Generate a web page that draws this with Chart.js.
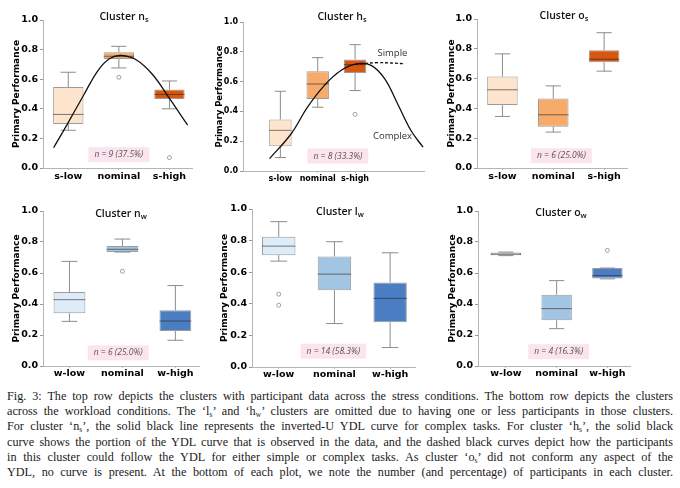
<!DOCTYPE html>
<html>
<head>
<meta charset="utf-8">
<script src="https://cdn.jsdelivr.net/npm/chart.js@4.4.1/dist/chart.umd.min.js"></script>
<style>
    html, body { margin: 0; padding: 0; background: #fff; }
    body { width: 680px; height: 488px; position: relative; overflow: hidden; }
    .panel { position: absolute; }
    .ttl {
        position: absolute; width: 120px; text-align: center;
        font-family: 'Open Sans', 'DejaVu Sans', sans-serif; font-weight: 600;
        font-size: 10.5px; line-height: 14px; color: #111;
    }
    .ttl sub { font-size: 7.5px; vertical-align: -2px; line-height: 0; }
    #caption {
        position: absolute; left: 7px; top: 389px; width: 666px;
        font-family: 'Liberation Serif', 'Times New Roman', serif;
        font-size: 12.2px; line-height: 15.2px; color: #1a1a1a;
    }
    #caption div { text-align: justify; text-align-last: justify; }
    #caption sub { font-size: 7.5px; vertical-align: -2px; line-height: 0; }
</style>
</head>
<body>
<div id="caption">
    <div>Fig. 3: The top row depicts the clusters with participant data across the stress conditions. The bottom row depicts the clusters</div>
    <div>across the workload conditions. The &lsquo;l<sub>s</sub>&rsquo; and &lsquo;h<sub>w</sub>&rsquo; clusters are omitted due to having one or less participants in those clusters.</div>
    <div>For cluster &lsquo;n<sub>s</sub>&rsquo;, the solid black line represents the inverted-U YDL curve for complex tasks. For cluster &lsquo;h<sub>s</sub>&rsquo;, the solid black</div>
    <div>curve shows the portion of the YDL curve that is observed in the data, and the dashed black curves depict how the participants</div>
    <div>in this cluster could follow the YDL for either simple or complex tasks. As cluster &lsquo;o<sub>s</sub>&rsquo; did not conform any aspect of the</div>
    <div>YDL, no curve is present. At the bottom of each plot, we note the number (and percentage) of participants in each cluster.</div>
</div>
<script>
// Categories
var stressCats = ['s-low', 'nominal', 's-high'];
var workCats = ['w-low', 'nominal', 'w-high'];

// Box summaries per category: [whisker low, q1, median, q3, whisker high]
var nsBoxes = [[0.255, 0.297, 0.362, 0.547, 0.647], [0.676, 0.736, 0.755, 0.782, 0.822], [0.400, 0.466, 0.497, 0.530, 0.588]];
var hsBoxes = [[0.090, 0.166, 0.273, 0.345, 0.535], [0.428, 0.483, 0.584, 0.669, 0.761], [0.540, 0.658, 0.714, 0.748, 0.848]];
var osBoxes = [[0.346, 0.422, 0.525, 0.614, 0.766], [0.241, 0.277, 0.357, 0.466, 0.551], [0.650, 0.710, 0.730, 0.790, 0.908]];
var nwBoxes = [[0.288, 0.340, 0.428, 0.477, 0.675], [0.735, 0.736, 0.753, 0.774, 0.819], [0.166, 0.226, 0.290, 0.360, 0.519]];
var lwBoxes = [[0.670, 0.708, 0.765, 0.824, 0.920], [0.275, 0.486, 0.588, 0.700, 0.793], [0.123, 0.283, 0.434, 0.535, 0.723]];
var owBoxes = [[0.712, 0.715, 0.722, 0.732, 0.735], [0.241, 0.295, 0.370, 0.460, 0.551], [0.562, 0.564, 0.583, 0.632, 0.632]];

// Outliers: [category index, value]
var nsOutliers = [[1, 0.613], [2, 0.070]];
var hsOutliers = [[2, 0.380]];
var osOutliers = [];
var nwOutliers = [[1, 0.611]];
var lwOutliers = [[0, 0.461], [0, 0.391]];
var owOutliers = [[2, 0.746]];

// YDL curves: [x (category units), value]
var nsCurve = [[-0.29, 0.137], [-0.03, 0.29], [0.30, 0.49], [0.59, 0.66], [0.82, 0.74], [1.05, 0.76], [1.35, 0.73], [1.67, 0.63], [2.00, 0.47], [2.36, 0.29]];
var hsComplex = [[-0.29, 0.083], [0.29, 0.25], [0.73, 0.43], [1.18, 0.575], [1.63, 0.676], [2.07, 0.72], [2.43, 0.709], [2.79, 0.62], [3.14, 0.45], [3.50, 0.27], [3.82, 0.16]];
var hsSimple = [[2.00, 0.716], [2.60, 0.727], [3.33, 0.720]];

// Participant counts
var nsCount = 'n = 9 (37.5%)';
var hsCount = 'n = 8 (33.3%)';
var osCount = 'n = 6 (25.0%)';
var nwCount = 'n = 6 (25.0%)';
var lwCount = 'n = 14 (58.3%)';
var owCount = 'n = 4 (16.3%)';

// Y ticks
var yTicks = [0, 0.2, 0.4, 0.6, 0.8, 1.0];

(function () {
    'use strict';

    var ORANGES = ['#FDE5CD', '#F7AB6B', '#D8560F'];
    var BLUES = ['#DEEBF8', '#A2C5E4', '#4A7DC2'];
    var PAD_T = 10, PAD_R = 4;

    // Panel layout: chart area [left, top, right, bottom] in page pixels
    var panels = [
        { name: 'n', sub: 's', cats: stressCats, boxes: nsBoxes, out: nsOutliers, colors: ORANGES, count: nsCount,
          area: [43, 20, 193, 168], xr: [-0.5, 2.45], yw: 32, xpad: 1, fs: 9.5, title: [124, 16], note: [1.0, 0.09],
          curves: [{ pts: nsCurve }] },
        { name: 'h', sub: 's', cats: stressCats, boxes: hsBoxes, out: hsOutliers, colors: ORANGES, count: hsCount,
          area: [243, 22, 425, 171], xr: [-1.0, 3.85], yw: 28, xpad: 1, fs: 8, title: [342, 16], note: [1.54, 0.10],
          curves: [{ pts: hsComplex }, { pts: hsSimple, dash: [3, 2] }],
          labels: [{ text: 'Simple', x: 3.0, y: 0.79 }, { text: 'Complex', x: 3.0, y: 0.23 }] },
        { name: 'o', sub: 's', cats: stressCats, boxes: osBoxes, out: osOutliers, colors: ORANGES, count: osCount,
          area: [477, 19, 627, 168], xr: [-0.5, 2.45], yw: 31, xpad: 1, fs: 9.5, title: [564, 15], note: [1.16, 0.082] },
        { name: 'n', sub: 'w', cats: workCats, boxes: nwBoxes, out: nwOutliers, colors: BLUES, count: nwCount,
          area: [43, 211, 200, 366], xr: [-0.5, 2.45], yw: 32, xpad: 0, fs: 9.5, title: [121, 213], note: [0.92, 0.085] },
        { name: 'l', sub: 'w', cats: workCats, boxes: lwBoxes, out: lwOutliers, colors: BLUES, count: lwCount,
          area: [252, 209, 416, 367], xr: [-0.48, 2.45], yw: 33, xpad: 0, fs: 9.5, title: [340, 211], note: [0.98, 0.10] },
        { name: 'o', sub: 'w', cats: workCats, boxes: owBoxes, out: owOutliers, colors: BLUES, count: owCount,
          area: [478, 211, 631, 366], xr: [-0.55, 2.45], yw: 31, xpad: 0, fs: 9.5, title: [561, 212], note: [1.04, 0.092] }
    ];

    // Whiskers, caps and medians drawn right after the box dataset
    var boxPlotPlugin = {
        id: 'boxPlot',
        afterDatasetDraw: function (chart, args, opts) {
            if (args.index !== 0 || !opts.boxes) { return; }
            var ctx = chart.ctx, ys = chart.scales.y;
            var meta = chart.getDatasetMeta(0);
            ctx.save();
            ctx.lineWidth = 1;
            opts.boxes.forEach(function (b, i) {
                var bar = meta.data[i];
                var cx = bar.x, half = bar.width / 2;
                var yLo = ys.getPixelForValue(b[0]), yQ1 = ys.getPixelForValue(b[1]);
                var yMed = ys.getPixelForValue(b[2]);
                var yQ3 = ys.getPixelForValue(b[3]), yHi = ys.getPixelForValue(b[4]);
                ctx.strokeStyle = '#8c8c8c';
                ctx.beginPath();
                ctx.moveTo(cx, yQ3); ctx.lineTo(cx, yHi);
                ctx.moveTo(cx, yQ1); ctx.lineTo(cx, yLo);
                ctx.moveTo(cx - half / 2, yHi); ctx.lineTo(cx + half / 2, yHi);
                ctx.moveTo(cx - half / 2, yLo); ctx.lineTo(cx + half / 2, yLo);
                ctx.stroke();
                ctx.strokeStyle = 'rgba(40,40,40,0.6)';
                ctx.beginPath();
                ctx.moveTo(cx - half, yMed); ctx.lineTo(cx + half, yMed);
                ctx.stroke();
            });
            ctx.restore();
        }
    };

    // Count badge and curve labels in data coordinates
    var notesPlugin = {
        id: 'notes',
        afterDatasetsDraw: function (chart, args, opts) {
            var ctx = chart.ctx, xs = chart.scales.x, ys = chart.scales.y;
            (opts.items || []).forEach(function (t) {
                var px = xs.getPixelForValue(t.x), py = ys.getPixelForValue(t.y);
                ctx.save();
                ctx.font = t.font;
                if (t.box) {
                    var w = ctx.measureText(t.text).width + 12;
                    ctx.fillStyle = t.box;
                    ctx.fillRect(px - w / 2, py - 7.5, w, 15);
                }
                ctx.fillStyle = t.color;
                ctx.textAlign = 'center';
                ctx.textBaseline = 'middle';
                ctx.fillText(t.text, px, py);
                ctx.restore();
            });
        }
    };

    function toPoints(list) {
        return list.map(function (p) { return { x: p[0], y: p[1] }; });
    }

    function buildPanel(p) {
        var xh = 20;
        var tickFont = { family: 'DejaVu Sans', size: p.fs, weight: 'bold' };
        var left = p.area[0] - p.yw, top = p.area[1] - PAD_T;
        var w = p.area[2] - p.area[0] + p.yw + PAD_R;
        var h = p.area[3] - p.area[1] + PAD_T + xh;

        var wrap = document.createElement('div');
        wrap.className = 'panel';
        wrap.style.left = left + 'px';
        wrap.style.top = top + 'px';
        wrap.style.width = w + 'px';
        wrap.style.height = h + 'px';
        var canvas = document.createElement('canvas');
        wrap.appendChild(canvas);
        document.body.appendChild(wrap);

        // Title with subscript
        var ttl = document.createElement('div');
        ttl.className = 'ttl';
        ttl.style.left = (p.title[0] - 60) + 'px';
        ttl.style.top = (p.title[1] - 7) + 'px';
        ttl.innerHTML = 'Cluster ' + p.name + '<sub>' + p.sub + '</sub>';
        document.body.appendChild(ttl);

        var datasets = [{
            type: 'bar',
            order: 3,
            data: p.boxes.map(function (b, i) { return { x: i, y: [b[1], b[3]] }; }),
            backgroundColor: p.colors,
            borderColor: 'rgba(60,60,60,0.5)',
            borderWidth: 1,
            borderSkipped: false,
            barPercentage: 0.6,
            categoryPercentage: 1
        }, {
            type: 'scatter',
            order: 2,
            data: toPoints(p.out),
            pointRadius: 2,
            pointBackgroundColor: 'rgba(0,0,0,0)',
            pointBorderColor: '#8a8a8a',
            pointBorderWidth: 0.8
        }];
        (p.curves || []).forEach(function (c) {
            datasets.push({
                type: 'line',
                order: 1,
                data: toPoints(c.pts),
                borderColor: '#111',
                borderWidth: 1.3,
                borderDash: c.dash || [],
                pointRadius: 0,
                tension: 0.4,
                fill: false
            });
        });

        var notes = [{ text: p.count, x: p.note[0], y: p.note[1], box: '#FCE4EE', color: '#555',
                       font: 'italic 8.5px "Open Sans", sans-serif' }];
        (p.labels || []).forEach(function (l) {
            notes.push({ text: l.text, x: l.x, y: l.y, color: '#333', font: '9.5px "Open Sans", sans-serif' });
        });

        new Chart(canvas, {
            type: 'bar',
            data: { datasets: datasets },
            options: {
                responsive: true,
                maintainAspectRatio: false,
                animation: false,
                layout: { padding: { top: PAD_T, right: PAD_R, left: 0, bottom: 0 } },
                plugins: {
                    legend: { display: false },
                    tooltip: { enabled: false },
                    boxPlot: { boxes: p.boxes },
                    notes: { items: notes }
                },
                scales: {
                    x: {
                        type: 'linear',
                        min: p.xr[0],
                        max: p.xr[1],
                        offset: false,
                        afterBuildTicks: function (s) {
                            s.ticks = p.cats.map(function (c, i) { return { value: i }; });
                        },
                        afterFit: function (s) { s.height = xh; },
                        ticks: {
                            autoSkip: false,
                            maxRotation: 0,
                            padding: p.xpad,
                            color: '#000',
                            font: tickFont,
                            callback: function (v, i) { return p.cats[i]; }
                        },
                        grid: { drawOnChartArea: false, drawTicks: true, tickLength: 2, color: '#bbb', offset: false },
                        border: { display: true, color: '#b5b5b5' }
                    },
                    y: {
                        min: 0,
                        max: 1,
                        afterBuildTicks: function (s) {
                            s.ticks = yTicks.map(function (v) { return { value: v }; });
                        },
                        afterFit: function (s) { s.width = p.yw; },
                        ticks: {
                            padding: 2,
                            color: '#000',
                            font: tickFont,
                            callback: function (v) { return Number(v).toFixed(1); }
                        },
                        grid: { drawOnChartArea: false, drawTicks: true, tickLength: 3, color: '#999' },
                        border: { display: true, color: '#b5b5b5' },
                        title: {
                            display: true,
                            text: 'Primary Performance',
                            color: '#000',
                            padding: 0,
                            font: { family: 'DejaVu Sans', size: p.fs === 8 ? 8.5 : 9, weight: 'bold' }
                        }
                    }
                }
            },
            plugins: [boxPlotPlugin, notesPlugin]
        });
    }

    panels.forEach(buildPanel);
})();
</script>
</body>
</html>
